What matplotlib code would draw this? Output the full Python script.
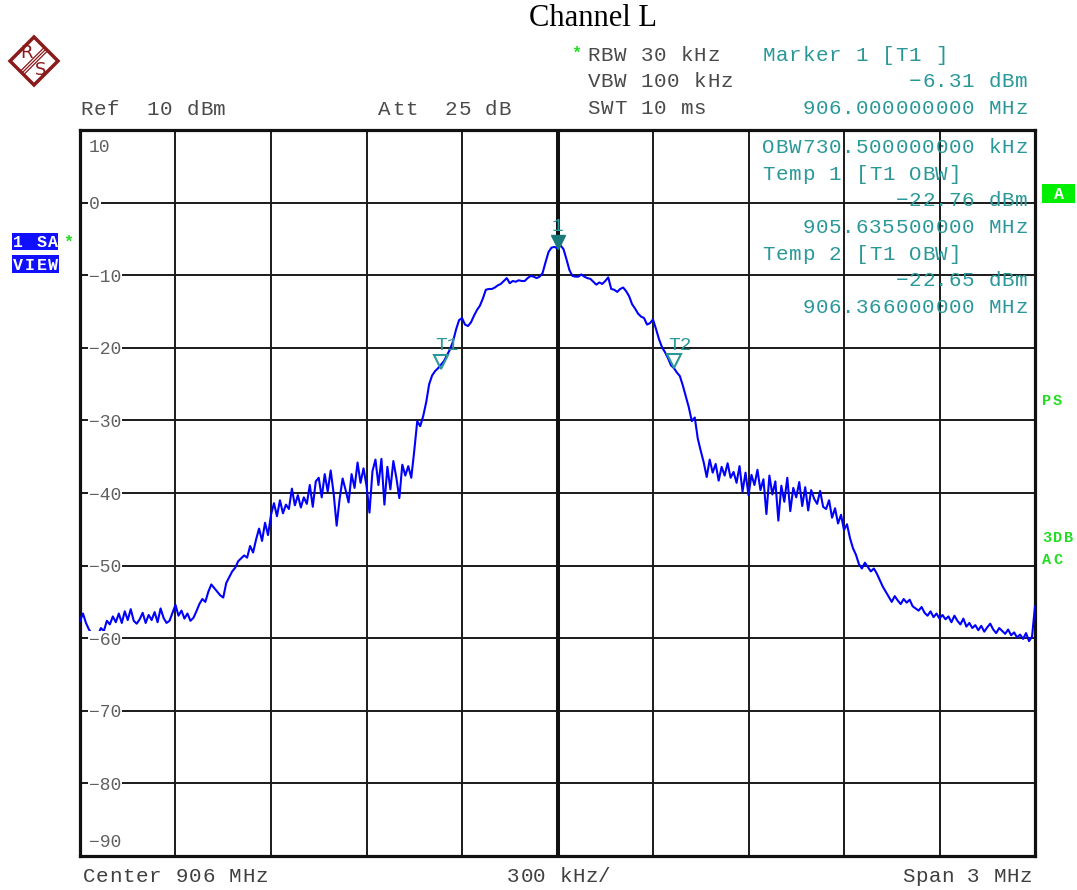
import numpy as np
import matplotlib
matplotlib.use("Agg")
import matplotlib.pyplot as plt
from matplotlib.patches import Rectangle, Polygon
from matplotlib.transforms import offset_copy

# instrument settings
center_mhz = 906.0
span_mhz = 3.0
ref_dbm = 10
att_db = 25
rbw_khz = 30
vbw_khz = 100
swt_ms = 10
obw_khz = 730.5

# trace (dBm), one value per sweep point across the span
levels = [
    -57.6, -56.6, -57.9, -58.8, -59.4, -59.2, -59.6, -58.6, -59.0, -57.6,
    -58.1, -57.0, -57.8, -56.6, -57.9, -56.3, -57.5, -56.0, -57.6, -58.0,
    -57.4, -56.5, -57.9, -56.8, -57.5, -56.4, -57.8, -55.9, -57.2, -57.9,
    -57.6, -56.5, -55.4, -56.9, -56.2, -57.3, -56.6, -57.6, -57.2, -56.3,
    -55.3, -54.6, -55.0, -53.6, -52.6, -53.1, -53.6, -54.1, -54.4, -52.4,
    -51.6, -50.8, -50.3, -49.4, -49.0, -48.6, -48.9, -47.3, -48.2, -46.4,
    -44.9, -46.6, -44.1, -45.8, -43.0, -41.4, -43.2, -41.0, -42.8, -41.6,
    -42.2, -39.4, -41.7, -40.3, -42.0, -40.6, -41.5, -38.9, -41.9, -38.4,
    -37.9, -40.6, -37.4, -39.8, -36.9, -40.1, -44.5, -40.8, -38.0, -39.6,
    -41.3, -37.4, -39.3, -35.8, -38.6, -36.6, -39.0, -42.7, -37.0, -35.4,
    -38.9, -35.3, -41.6, -36.4, -39.5, -35.6, -37.9, -40.7, -36.1, -37.6,
    -36.3, -37.9, -34.2, -30.1, -30.8, -29.4, -27.5, -25.0, -23.8, -23.2,
    -22.8, -22.3, -21.8, -21.0, -20.2, -19.1, -17.5, -16.2, -15.9, -16.8,
    -17.0, -16.5, -15.6, -14.8, -14.2, -13.2, -12.0, -11.9, -11.9, -11.7,
    -11.4, -11.2, -10.8, -10.4, -11.1, -10.8, -10.9, -10.7, -10.8, -10.8,
    -10.4, -10.1, -10.2, -10.4, -10.2, -9.7, -8.2, -6.8, -6.2, -6.1,
    -6.31, -5.9, -6.4, -7.8, -9.3, -10.1, -10.2, -10.2, -9.9, -10.2,
    -10.4, -10.5, -10.9, -11.3, -11.0, -11.2, -10.8, -10.3, -11.9, -12.0,
    -12.3, -11.9, -11.7, -12.2, -12.9, -14.0, -14.6, -15.3, -15.7, -15.9,
    -16.8, -16.6, -16.1, -17.4, -18.8, -19.9, -20.6, -21.4, -22.4, -22.8,
    -23.4, -23.9, -25.2, -26.7, -28.2, -30.1, -29.6, -32.5, -34.2, -35.8,
    -37.8, -35.4, -37.2, -36.0, -38.3, -36.4, -37.6, -35.9, -37.9, -37.1,
    -38.6, -36.3, -39.8, -37.2, -40.3, -37.5, -38.9, -36.8, -39.6, -38.1,
    -42.9, -37.6, -40.2, -38.4, -43.8, -39.0, -41.2, -37.9, -42.5, -39.3,
    -40.6, -38.5, -41.8, -39.2, -42.4, -39.6, -40.8, -41.5, -39.7, -41.9,
    -42.2, -41.0, -43.4, -42.1, -44.2, -43.0, -45.1, -44.3, -46.2, -47.6,
    -48.5, -49.8, -50.4, -49.6, -50.2, -50.8, -50.4, -51.1, -52.0, -52.9,
    -53.6, -54.3, -55.0, -54.2, -54.8, -55.3, -54.6, -55.1, -54.7, -55.6,
    -55.9, -56.2, -55.7, -56.5, -56.9, -56.3, -57.1, -56.6, -57.3, -56.8,
    -57.4, -57.0, -57.8, -56.9, -57.6, -58.1, -57.3, -58.4, -57.9, -58.6,
    -58.2, -58.9, -58.3, -59.1, -58.5, -58.0, -58.8, -59.3, -58.6, -59.0,
    -59.4, -58.8, -59.6, -59.2, -59.9, -59.5, -60.1, -59.3, -60.4, -59.8,
    -55.6,
]

# markers
marker_names = ["1", "T1", "T2"]
marker_freq = [906.0, 905.6355, 906.366]
marker_level = [-6.31, -22.76, -22.65]

yticks = list(range(-90, 11, 10))

MONO = "Liberation Mono"
GRAY = "#4a4a4a"
TEAL = "#2a9898"
GREEN = "#22dd22"
W, H = 1077, 890

f_lo = center_mhz - span_mhz / 2
f_hi = center_mhz + span_mhz / 2
freq = np.linspace(f_lo, f_hi, len(levels))

fig = plt.figure(figsize=(W / 100, H / 100), dpi=100)
ax = fig.add_axes([80 / W, 1 - 856 / H, 955 / W, 726 / H])

ax.set_xlim(f_lo, f_hi)
ax.set_ylim(yticks[0], yticks[-1])
ax.set_xticks(np.linspace(f_lo, f_hi, 11))
ax.set_yticks(yticks)
ax.tick_params(length=0, labelbottom=False, labelleft=False)
ax.grid(True, color="#1a1a1a", lw=1.4)
ax.axvline(center_mhz, color="#111111", lw=2.9)
for sp in ax.spines.values():
    sp.set_linewidth(2.3)
    sp.set_color("#111111")

ax.plot(freq, levels, color="#0000ff", lw=1.5, zorder=3)

# y labels sit on the grid lines, except the two outer ones
ytr = ax.get_yaxis_transform()
for v in yticks:
    pos = min(max(v, yticks[0] + 2.2), yticks[-1] - 2.2)
    ax.text(0.0094, pos, str(v).replace("-", "\u2212"), transform=ytr,
            family=MONO, fontsize=13, color="#606060", ha="left",
            va="center_baseline", zorder=4,
            bbox=dict(fc="white", ec="none", pad=0.6))

# markers
tri = offset_copy(ax.transData, fig=fig, x=0, y=6, units="dots")
for name, f, lv in zip(marker_names, marker_freq, marker_level):
    if name == "1":
        ax.plot(f, lv, "v", ms=9.5, color="#1a7a7a", transform=tri, zorder=5)
        lab = offset_copy(ax.transData, fig=fig, x=0, y=24, units="dots")
    else:
        ax.plot(f, lv, "v", ms=9.5, mfc="none", mec=TEAL, mew=1.5,
                transform=tri, zorder=5)
        lab = offset_copy(ax.transData, fig=fig, x=6, y=24, units="dots")
    ax.text(f, lv, name, transform=lab, family=MONO, fontsize=14,
            color=TEAL, ha="center", va="center_baseline", zorder=5)

# overlay in pixel coordinates for the instrument annotations
ov = fig.add_axes([0, 0, 1, 1])
ov.set_xlim(0, W)
ov.set_ylim(H, 0)
ov.axis("off")
ov.set_zorder(5)


def mono_text(x, y, s, color, pitch=13.3, size=15, right=False, weight="normal"):
    if right:
        x = x - len(s) * pitch
    for k, ch in enumerate(s):
        if ch != " ":
            ov.text(x + (k + 0.5) * pitch, y, ch, color=color, fontsize=size,
                    family=MONO, weight=weight, ha="center", va="baseline")


def dbm(v):
    return ("%.2f dBm" % v).replace("-", "\u2212")


mono_text(80, 115, "Ref  %d dBm" % ref_dbm, GRAY)
mono_text(378, 115, "Att  %d dB" % att_db, GRAY)
mono_text(587, 114, "SWT %d ms" % swt_ms, GRAY)
mono_text(587, 61, "RBW %d kHz" % rbw_khz, GRAY)
mono_text(587, 87, "VBW %d kHz" % vbw_khz, GRAY)
ov.text(576, 58, "*", color=GREEN, fontsize=12, family=MONO, ha="center", va="baseline",
        weight="bold")

mono_text(762, 61, "Marker 1 [T1 ]", TEAL)
mono_text(1028, 87, dbm(marker_level[0]), TEAL, right=True)
mono_text(1028, 114, "%.9f MHz" % marker_freq[0], TEAL, right=True)

mono_text(762, 153, "OBW%.9f kHz" % obw_khz, TEAL)
mono_text(762, 180, "Temp 1 [T1 OBW]", TEAL)
mono_text(1028, 206, dbm(marker_level[1]), TEAL, right=True)
mono_text(1028, 233, "%.9f MHz" % marker_freq[1], TEAL, right=True)
mono_text(762, 260, "Temp 2 [T1 OBW]", TEAL)
mono_text(1028, 286, dbm(marker_level[2]), TEAL, right=True)
mono_text(1028, 313, "%.9f MHz" % marker_freq[2], TEAL, right=True)

mono_text(82, 882, "Center %d MHz" % center_mhz, "#404040")
mono_text(507, 882, "%d kHz/" % (span_mhz * 100), "#404040", pitch=13.0)
mono_text(1032, 882, "Span %d MHz" % span_mhz, "#404040", pitch=13.0, right=True)

fig.text(593 / W, 1 - 18 / H, "Channel L", family="Liberation Serif", fontsize=22,
         ha="center", va="center")

# side badges
ov.add_patch(Rectangle((12, 233), 46, 17, fc="#1010ff", ec="none"))
mono_text(12.5, 247, "1 SA", "white", pitch=11.5, size=12, weight="bold")
ov.add_patch(Rectangle((12, 255), 47, 18, fc="#1010ff", ec="none"))
mono_text(12.5, 270, "VIEW", "white", pitch=11.6, size=12, weight="bold")
ov.text(68, 247, "*", color=GREEN, fontsize=12, family=MONO, ha="center",
        va="baseline", weight="bold")

ov.add_patch(Rectangle((1042, 184), 33, 19, fc="#00ee00", ec="none"))
ov.text(1058.5, 199, "A", color="white", fontsize=12, family=MONO, weight="bold",
        ha="center", va="baseline")
mono_text(1041, 405, "PS", GREEN, pitch=11, size=11, weight="bold")
mono_text(1041, 542, "3DB", GREEN, pitch=11, size=11, weight="bold")
mono_text(1041, 564, "AC", GREEN, pitch=11, size=11, weight="bold")

# R&S logo
red = "#8b1a1a"
ov.add_patch(Polygon([(34, 37), (58, 61), (34, 85), (10, 61)], closed=True,
                     fc="white", ec=red, lw=2.5))
for d in (-2.4, 0, 2.4):
    dx = dy = d / np.sqrt(2)
    ov.plot([46 + dx, 22 + dx], [49 + dy, 73 + dy], color=red, lw=0.9)
ov.text(27, 53, "R", color=red, fontsize=13, ha="center", va="center")
ov.text(41, 70, "S", color=red, fontsize=13, ha="center", va="center")

fig.savefig("out.png", dpi=100)
